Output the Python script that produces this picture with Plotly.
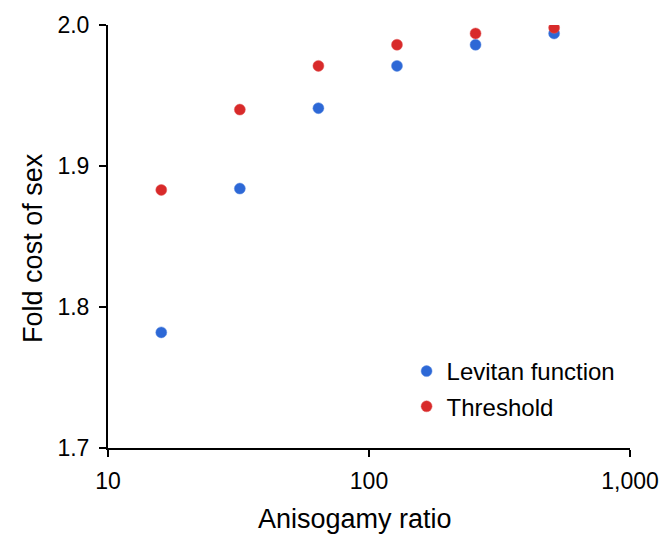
import plotly.graph_objects as go

anisogamy = [16, 32, 64, 128, 256, 512]
levitan = [1.782, 1.884, 1.941, 1.971, 1.986, 1.994]
threshold = [1.883, 1.940, 1.971, 1.986, 1.994, 1.998]
x_ticks = [10, 100, 1000]
x_tick_labels = ["10", "100", "1,000"]
y_ticks = [1.7, 1.8, 1.9, 2.0]
x_title = "Anisogamy ratio"
y_title = "Fold cost of sex"

fig = go.Figure()
fig.add_trace(go.Scatter(x=anisogamy, y=levitan, mode="markers", name="Levitan function",
                         legendgroup="a",
                         marker=dict(size=11, color="#2d68d6",
                                     line=dict(width=0.5, color="#5a8ae0"))))
fig.add_trace(go.Scatter(x=anisogamy, y=threshold, mode="markers", name="Threshold",
                         legendgroup="b",
                         marker=dict(size=11, color="#d82a2a",
                                     line=dict(width=0.5, color="#e25a5a"))))

fig.update_layout(
    width=670, height=534,
    margin=dict(l=108, r=40, t=25, b=86),
    plot_bgcolor="white", paper_bgcolor="white",
    font=dict(family="Liberation Sans, Arial", color="black", size=23),
    showlegend=True,
    legend=dict(x=0.572, y=0.234, xanchor="left", yanchor="top",
                font=dict(size=24), bgcolor="rgba(0,0,0,0)",
                itemsizing="trace", tracegroupgap=1),
    annotations=[
        dict(text=x_title, xref="paper", yref="paper", x=0.473, y=-0.168,
             xanchor="center", yanchor="middle", showarrow=False,
             font=dict(size=27)),
        dict(text=y_title, xref="paper", yref="paper", x=-0.1437, y=0.473,
             xanchor="center", yanchor="middle", showarrow=False, textangle=-90,
             font=dict(size=27)),
    ],
)
fig.update_xaxes(type="log", range=[1, 3], tickvals=x_ticks, ticktext=x_tick_labels,
                 showline=True, linecolor="black", linewidth=2,
                 ticks="outside", ticklen=7, tickwidth=2, tickcolor="black",
                 showgrid=False, zeroline=False, automargin=False,
                 tickfont=dict(size=23), ticklabelstandoff=4)
fig.update_yaxes(range=[1.7, 2.0], tickvals=y_ticks, tickformat=".1f",
                 showline=True, linecolor="black", linewidth=2,
                 ticks="outside", ticklen=7, tickwidth=2, tickcolor="black",
                 showgrid=False, zeroline=False, automargin=False,
                 tickfont=dict(size=23), ticklabelstandoff=5)

fig.write_html("out.html")
